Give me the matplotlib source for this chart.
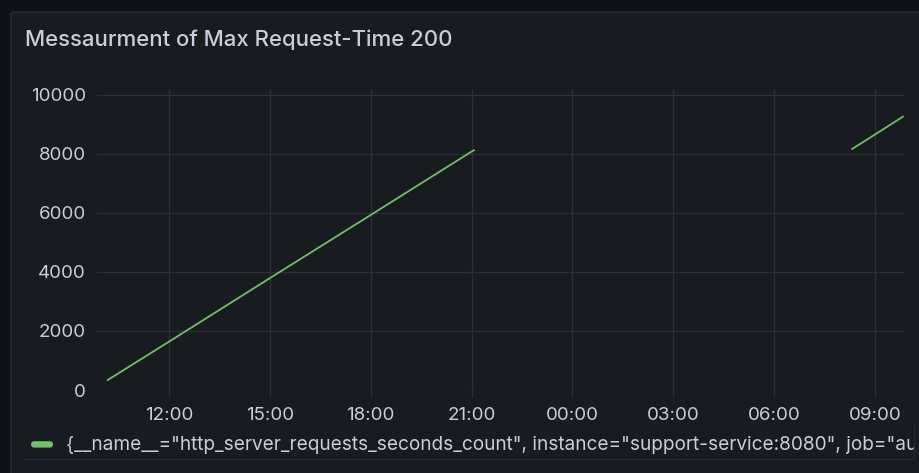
import numpy as np
import matplotlib
matplotlib.use("Agg")
import matplotlib.pyplot as plt
from matplotlib.patches import FancyBboxPatch

# hours since 00:00 of the first day
times = [10.18, 12.0, 15.0, 18.0, 21.0, 21.07, np.nan, 32.32, 33.0, 33.83]
counts = [339, 1637, 3790, 5930, 8080, 8122, np.nan, 8170, 8660, 9264]

x_ticks = [12, 15, 18, 21, 24, 27, 30, 33]
x_labels = ["12:00", "15:00", "18:00", "21:00", "00:00", "03:00", "06:00", "09:00"]
y_ticks = [0, 2000, 4000, 6000, 8000, 10000]

title = "Messaurment of Max Request-Time 200"
legend_label = '{__name__="http_server_requests_seconds_count", instance="support-service:8080", job="auth-service"}'

W, H = 920, 473
canvas_bg = "#111217"
panel_bg = "#181b1f"
border = "#2b2d33"
grid_col = "#2c2f34"
text_col = "#ccccdc"
green = "#73bf69"

plt.rcParams['font.family'] = ['Inter', 'DejaVu Sans']

fig = plt.figure(figsize=(W / 100, H / 100), dpi=100, facecolor=canvas_bg)

# panel box, kept behind the axes
panel = FancyBboxPatch((11 / W, -20 / H), (W + 20) / W, (H + 20 - 12) / H,
                       boxstyle="round,pad=0,rounding_size=0.006",
                       transform=fig.transFigure, facecolor=panel_bg,
                       edgecolor=border, linewidth=1.0, zorder=-10)
fig.patches.append(panel)

fig.text(25 / W, 1 - 46 / H, title, color=text_col, fontsize=15.95,
         fontweight=500, ha="left", va="baseline")

ax = fig.add_axes([97 / W, 83 / H, (904 - 97) / W, (390 - 89) / H])
ax.set_facecolor("none")
ax.plot(times, counts, color=green, linewidth=1.3)

ax.set_xlim(9.86, 33.86)
ax.set_ylim(0, 10200)
ax.set_xticks(x_ticks)
ax.set_xticklabels(x_labels)
ax.set_yticks(y_ticks)

ax.grid(True, color=grid_col, linewidth=1.0)
for s in ax.spines.values():
    s.set_visible(False)
ax.tick_params(axis="x", colors=grid_col, length=5, width=1.0, pad=7,
               labelcolor=text_col, labelsize=13.5)
ax.tick_params(axis="y", length=0, pad=8, labelcolor=text_col, labelsize=13.5)

# legend row
lax = fig.add_axes([25 / W, (H - 459) / H, (914 - 25) / W, 37 / H])
lax.set_xlim(0, 914 - 25)
lax.set_ylim(459, 422)
lax.set_facecolor("none")
for s in lax.spines.values():
    s.set_visible(False)
lax.spines["bottom"].set_visible(True)
lax.spines["bottom"].set_color(border)
lax.spines["right"].set_visible(True)
lax.spines["right"].set_color(border)
lax.set_xticks([])
lax.set_yticks([])
lax.add_patch(FancyBboxPatch((31 - 25, 441.2), 22, 6.4,
                             boxstyle="round,pad=0,rounding_size=3",
                             facecolor=green, edgecolor="none"))
lax.text(66 - 25, 444.5, legend_label, color=text_col, fontsize=13.7,
         ha="left", va="center", clip_on=True)

fig.savefig("out.png", dpi=100, facecolor=canvas_bg)
